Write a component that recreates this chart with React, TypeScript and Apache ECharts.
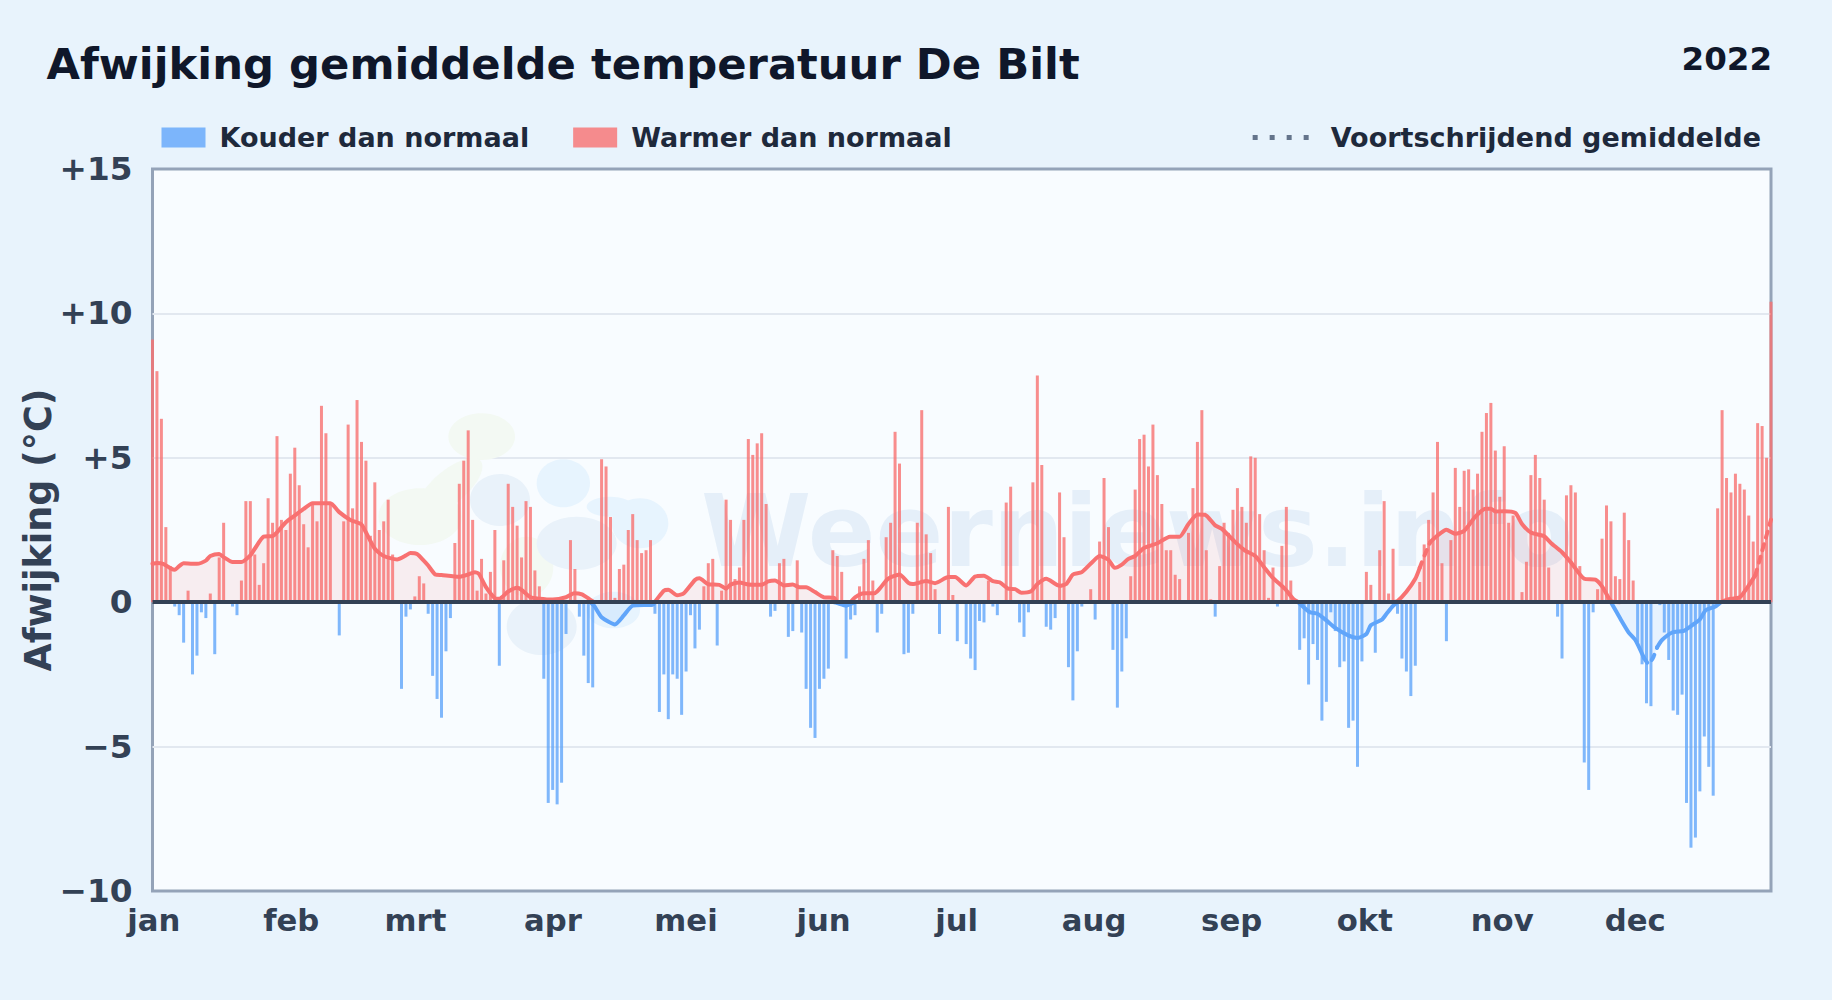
import React, { useEffect, useRef } from "react";
import * as echarts from "echarts";

const monthLabels = ["jan", "feb", "mrt", "apr", "mei", "jun", "jul", "aug", "sep", "okt", "nov", "dec"];
const monthStarts = [0, 31, 59, 90, 120, 151, 181, 212, 243, 273, 304, 334];
const yTickLabels: Record<string, string> = { "15": "+15", "10": "+10", "5": "+5", "0": "0", "-5": "\u22125", "-10": "\u221210" };

const dailyAnomaly = [
  9.1, 8.0, 6.35, 2.6, 1.25, -0.15, -0.45, -1.4, 0.4, -2.5,
  -1.85, -0.35, -0.55, 0.3, -1.8, 1.55, 2.75, 0, -0.15, -0.45,
  0.75, 3.5, 3.5, 1.65, 0.6, 1.35, 3.6, 2.75, 5.75, 2.85,
  2.5, 4.45, 5.35, 4.05, 2.7, 1.9, 3.4, 2.8, 6.8, 5.85,
  3.4, 0, -1.15, 2.8, 6.15, 3.25, 7.0, 5.55, 4.9, 2.3,
  4.15, 2.5, 2.8, 3.55, 1.65, 0, -3.0, -0.5, -0.25, 0.2,
  0.9, 0.65, -0.4, -2.55, -3.35, -4.0, -1.7, -0.55, 2.05, 4.1,
  4.9, 5.95, 2.85, 0.4, 1.5, 0.3, 1.05, 2.5, -2.2, 1.45,
  4.1, 3.3, 2.65, 1.55, 3.5, 3.3, 1.1, 0.55, -2.65, -6.95,
  -6.5, -7.0, -6.25, -1.1, 2.15, 1.15, -0.5, -1.85, -2.8, -2.95,
  0, 4.95, 4.7, 2.95, 0.15, 1.15, 1.3, 2.5, 3.05, 2.15,
  1.7, 1.8, 2.15, -0.4, -3.8, -2.5, -4.05, -2.5, -2.65, -3.9,
  -2.4, -0.45, -1.6, -0.95, 0.55, 1.35, 1.5, -1.5, 0.4, 3.55,
  2.85, 0.8, 1.2, 2.85, 5.65, 5.1, 5.5, 5.85, 3.4, -0.5,
  -0.3, 1.35, 1.5, -1.2, -1.0, 1.45, -1.05, -3.0, -4.35, -4.7,
  -3.0, -2.65, -2.3, 1.8, 1.6, 1.05, -1.95, -0.6, -0.45, 0.55,
  1.5, 2.15, 0.75, -1.05, -0.4, 2.25, 2.75, 5.9, 4.8, -1.8,
  -1.75, -0.4, 2.75, 6.65, 2.35, 1.7, 0.45, -1.1, 0, 3.3,
  0.25, -1.35, 0, -1.45, -1.95, -2.35, -0.65, -0.7, 0.75, -0.15,
  -0.45, 0, 3.45, 4.0, 0, -0.7, -1.2, -0.35, 4.15, 7.85,
  4.75, -0.85, -0.95, -0.55, 3.8, 2.25, -2.25, -3.4, -1.7, -0.15,
  0.05, 0.45, -0.6, 2.1, 4.3, 2.6, -1.65, -3.65, -2.4, -1.25,
  0.9, 3.9, 5.65, 5.8, 4.7, 6.15, 4.4, 3.4, 1.8, 1.8,
  0.95, 0.8, 0, 2.4, 3.95, 5.55, 6.65, 1.8, 0.1, -0.5,
  1.25, 2.75, 2.4, 3.2, 3.95, 3.3, 2.75, 5.05, 5.0, 3.05,
  1.8, 0.15, 1.2, -0.15, 1.95, 3.3, 0.75, 0, -1.65, -1.25,
  -2.85, -1.45, -2.0, -4.1, -3.45, -0.35, -1.0, -2.25, -2.05, -4.35,
  -4.1, -5.7, -2.05, 1.05, 0.6, -1.75, 1.8, 3.5, 0.3, 1.85,
  -0.4, -1.95, -2.4, -3.25, -2.2, 0.7, 2.0, 2.85, 3.8, 5.55,
  1.35, -1.35, 2.15, 4.65, 3.3, 4.55, 4.6, 3.9, 4.45, 5.9,
  6.55, 6.9, 5.25, 3.65, 5.4, 2.75, 3.0, 0, 0.35, 1.4,
  4.4, 5.1, 4.3, 3.55, 1.2, 0, -0.5, -1.95, 3.7, 4.05,
  3.8, 1.25, -5.55, -6.5, -0.35, 0.45, 2.2, 3.35, 2.8, 0.9,
  0.8, 3.1, 2.15, 0.75, -1.4, -2.15, -3.5, -3.6, 0, -0.1,
  -1.05, -2.0, -3.75, -3.9, -3.2, -6.95, -8.5, -8.15, -6.55, -4.65,
  -5.7, -6.7, 3.25, 6.65, 4.3, 3.8, 4.45, 4.1, 3.9, 3.0,
  2.1, 6.2, 6.1, 5.0, 10.4,
];

const avgDays = [
  0, 1, 2.4, 4, 5, 6, 7, 9, 10, 12, 13, 15, 16, 18, 20, 22, 23, 25, 27, 28, 30, 32, 34, 36, 40, 42, 44.5, 47, 48, 50,
  52, 55, 57, 58, 59.5, 61, 62, 63.6, 65, 69, 71, 72.5, 73.4, 75, 77, 78, 80, 82, 83, 85, 87, 90, 93, 94.8, 96.6, 98.5,
  99.3, 101, 104, 106, 108, 112.5, 113, 115, 116, 118, 119.5, 122, 123, 125, 127.5, 129, 130, 132, 134, 137, 138.5, 140,
  142, 144, 145.5, 147, 149, 151, 153.3, 154, 156, 157, 158, 160, 162.4, 163.5, 165.4, 168, 170, 171, 174, 176, 179,
  180.5, 183, 185, 187, 189, 190.5, 192.4, 194, 195.4, 197.6, 199, 201, 204, 205.5, 207, 209, 211.5, 213, 215, 216.4,
  218, 219.4, 221, 223, 226, 228.8, 231, 233, 235, 236.7, 239, 240.5, 243.5, 245.7, 248, 250, 251.8, 254.7, 256.5, 257.7,
  260.3, 262, 264, 266, 268.9, 271, 273, 274, 276.5, 277.5, 279, 280, 282, 284, 285, 286.3, 287.4, 289, 291, 293, 295,
  297.5, 299.8, 301, 302, 304, 306.5, 308, 310, 313, 314.5, 317, 319, 322, 324.5, 326, 328, 330, 332, 333.5, 335.4,
  336.5, 337.6, 338.4, 339.5, 341.8, 344.4, 346.3, 348, 349.3, 351.5, 352.7, 354.5, 357, 358.6, 360.5, 362, 364,
];
const avgValues = [
  1.33, 1.36, 1.33, 1.18, 1.12, 1.25, 1.35, 1.33, 1.33, 1.44, 1.6, 1.67, 1.56, 1.39, 1.39, 1.62, 1.85, 2.27, 2.29, 2.42, 2.77, 3.0, 3.23, 3.43, 3.43, 3.12, 2.85, 2.69, 2.42, 1.85,
  1.6, 1.48, 1.62, 1.7, 1.67, 1.44, 1.27, 0.96, 0.94, 0.88, 0.96, 1.04, 0.98, 0.52, 0.14, 0.12, 0.37, 0.5, 0.43, 0.17, 0.12, 0.09, 0.17, 0.31, 0.27, 0.08,
  -0.12, -0.52, -0.77, -0.46, -0.12, -0.09, 0.02, 0.4, 0.43, 0.24, 0.31, 0.77, 0.83, 0.62, 0.6, 0.47, 0.61, 0.68, 0.61, 0.6, 0.72, 0.75,
  0.58, 0.61, 0.52, 0.52, 0.35, 0.17, 0.15, -0.03, -0.12, -0.06, 0.17, 0.31, 0.31, 0.46, 0.81, 0.96, 0.67, 0.63, 0.73, 0.66, 0.87,
  0.87, 0.58, 0.89, 0.92, 0.73, 0.69, 0.47, 0.45, 0.33, 0.38, 0.63, 0.81, 0.57, 0.63, 0.96, 1.04, 1.41, 1.6, 1.47, 1.19,
  1.3, 1.49, 1.6, 1.88, 2.04, 2.27, 2.27, 2.71, 3.04, 3.03, 2.66, 2.54, 2.08, 1.79, 1.6, 1.21, 0.87, 0.46, 0.12, 0,
  -0.35, -0.4, -0.63, -0.89, -1.15, -1.24, -1.1, -0.8, -0.6, -0.41, -0.13, 0.04, 0.36, 0.81, 1.19, 1.7, 2.09, 2.31, 2.51, 2.37, 2.47,
  2.96, 3.24, 3.24, 3.14, 3.15, 3.09, 2.71, 2.41, 2.28, 2.05, 1.73, 1.38, 0.81, 0.78, 0.55, 0.04, -0.54, -1.05, -1.31, -1.92,
  -2.14, -1.88, -1.56, -1.31, -1.05, -0.99, -0.79, -0.6, -0.28, -0.15, 0, 0.1, 0.17, 0.49, 0.94, 1.77, 2.86,
];
const dashRanges = [[285, 287.4], [335.4, 338.4], [360.5, 364]];

const FONT = "'DejaVu Sans', sans-serif";
const WARM = "#f87171";
const COLD = "#60a5fa";
const DOTS_ICON = "path://M0 0h5v5h-5z M17 0h5v5h-5z M34 0h5v5h-5z M51 0h5v5h-5z";

function inDash(d: number) {
  return dashRanges.some(([a, b]) => d >= a && d <= b);
}
function onBoundaryOrOutside(d: number) {
  return !dashRanges.some(([a, b]) => d > a && d < b);
}
function signed(sign: number) {
  return avgValues.map((v, i) => {
    if (sign * v >= 0) return v;
    const prev = avgValues[i - 1];
    const next = avgValues[i + 1];
    if ((prev !== undefined && sign * prev > 0) || (next !== undefined && sign * next > 0)) return 0;
    return null;
  });
}
function lineData(sign: number, dashed: boolean | null) {
  const vals = signed(sign);
  return avgDays.map((d, i) => {
    const keep = dashed === null ? true : dashed ? inDash(d) : onBoundaryOrOutside(d);
    return [d, keep ? vals[i] : null];
  });
}
function avgLine(sign: number, dashed: boolean) {
  return {
    type: "line",
    xAxisIndex: 1,
    data: lineData(sign, dashed),
    showSymbol: false,
    symbol: "none",
    smooth: 0.2,
    silent: true,
    z: 3,
    lineStyle: { color: sign > 0 ? WARM : COLD, width: 4, cap: "round", join: "round", type: dashed ? [6, 7] : "solid" },
  };
}
function avgArea(sign: number) {
  return {
    type: "line",
    xAxisIndex: 1,
    data: lineData(sign, null),
    showSymbol: false,
    symbol: "none",
    smooth: 0.2,
    silent: true,
    z: 1,
    lineStyle: { width: 0 },
    areaStyle: { color: sign > 0 ? "rgba(248,113,113,0.15)" : "rgba(96,165,250,0.15)", origin: 0 },
  };
}
function blob(cx: number, cy: number, rx: number, ry: number, fill: string, rotation = 0) {
  return {
    type: "ellipse",
    x: 380 + cx / 3,
    y: 400 + cy / 3,
    rotation,
    z: 1,
    silent: true,
    shape: { cx: 0, cy: 0, rx: rx / 3, ry: ry / 3 },
    style: { fill },
  };
}
function categoryItem(i: number) {
  if (!monthStarts.includes(i)) return String(i);
  const shift = 1.2 - (3.5 * i) / 334;
  const padding = shift >= 0 ? [0, 0, 0, 2 * shift] : [0, -2 * shift, 0, 0];
  return { value: String(i), textStyle: { padding } };
}

export default function App() {
  const ref = useRef<HTMLDivElement>(null);
  useEffect(() => {
    document.body.style.margin = "0";
    const chart = echarts.init(ref.current!, undefined, { renderer: "svg" });
    const greenA = "#f3f9f3";
    const greyB = "#e9f2fa";
    const blueC = "#e7f4fe";
    chart.setOption({
      animation: false,
      backgroundColor: "#e8f3fc",
      title: [
        { text: "Afwijking gemiddelde temperatuur De Bilt", left: 41.5, top: 37.5, textStyle: { fontFamily: FONT, fontSize: 43.3, fontWeight: "bold", color: "#0f172a" } },
        { text: "2022", right: 55, top: 37, textStyle: { fontFamily: FONT, fontSize: 32.5, fontWeight: "bold", color: "#0f172a" } },
      ],
      legend: [
        {
          data: ["Kouder dan normaal", "Warmer dan normaal"],
          left: 156.5,
          top: 119,
          itemWidth: 44,
          itemHeight: 20,
          itemGap: 44,
          icon: "rect",
          textStyle: { fontFamily: FONT, fontSize: 27, fontWeight: "bold", color: "#1e293b", padding: [0, 0, 0, 9] },
        },
        {
          data: [{ name: "Voortschrijdend gemiddelde", icon: DOTS_ICON, itemStyle: { color: "#64748b", opacity: 1 } }],
          right: 66,
          top: 119,
          itemWidth: 56,
          itemHeight: 5,
          textStyle: { fontFamily: FONT, fontSize: 27, fontWeight: "bold", color: "#1e293b", padding: [0, 0, 0, 17] },
        },
      ],
      grid: { left: 152.5, right: 61, top: 169, bottom: 109, show: true, backgroundColor: "#f8fcff", borderColor: "#94a3b8", borderWidth: 3 },
      xAxis: [
        {
          type: "category",
          boundaryGap: false,
          data: dailyAnomaly.map((_, i) => categoryItem(i)),
          axisLine: { show: false },
          axisTick: { show: false },
          splitLine: { show: false },
          axisLabel: {
            interval: (i: number) => monthStarts.includes(i),
            formatter: (v: string) => monthLabels[monthStarts.indexOf(Number(v))] ?? "",
            fontFamily: FONT,
            fontSize: 30.7,
            fontWeight: "bold",
            color: "#334155",
            margin: 14,
          },
        },
        { type: "value", min: 0, max: 364, show: false, splitLine: { show: false } },
      ],
      yAxis: {
        type: "value",
        min: -10,
        max: 15,
        interval: 5,
        name: "Afwijking (\u00b0C)",
        nameLocation: "middle",
        nameRotate: 90,
        nameGap: 96,
        nameMoveOverlap: false,
        nameTextStyle: { fontFamily: FONT, fontSize: 36.5, fontWeight: "bold", color: "#334155" },
        axisLine: { show: false },
        axisTick: { show: false },
        splitLine: { showMinLine: false, showMaxLine: false, lineStyle: { color: "#e2e8f0", width: 2 } },
        axisLabel: {
          formatter: (v: number) => yTickLabels[String(v)] ?? String(v),
          fontFamily: FONT,
          fontSize: 32.7,
          fontWeight: "bold",
          color: "#334155",
          margin: 20,
        },
      },
      graphic: [
        blob(305, 110, 100, 70, greenA),
        blob(210, 260, 120, 50, greenA, 0.7),
        blob(120, 350, 125, 85, greenA),
        blob(440, 500, 80, 90, greenA),
        blob(360, 300, 90, 78, greyB),
        blob(590, 430, 120, 80, greyB),
        blob(485, 680, 105, 85, greyB),
        blob(550, 250, 80, 72, blueC),
        blob(780, 370, 85, 75, blueC),
        blob(690, 320, 70, 30, blueC),
        blob(700, 630, 80, 55, blueC),
        {
          type: "text",
          x: 701,
          y: 581,
          z: 1,
          silent: true,
          style: { text: "Weerniews.info", fontFamily: FONT, fontSize: 100, fontWeight: "bold", fill: "#e5eff9", textVerticalAlign: "bottom", verticalAlign: "alphabetic" },
        },
      ],
      series: [
        avgArea(1),
        avgArea(-1),
        {
          name: "Kouder dan normaal",
          type: "bar",
          barWidth: 3,
          barGap: "-100%",
          z: 2,
          silent: true,
          itemStyle: { color: "rgba(96,165,250,0.8)" },
          data: dailyAnomaly.map((v) => (v < 0 ? v : null)),
        },
        {
          name: "Warmer dan normaal",
          type: "bar",
          barWidth: 3,
          barGap: "-100%",
          z: 2,
          silent: true,
          itemStyle: { color: "rgba(248,113,113,0.8)" },
          data: dailyAnomaly.map((v) => (v > 0 ? v : null)),
          markLine: {
            silent: true,
            symbol: "none",
            label: { show: false },
            lineStyle: { color: "#334155", width: 4, type: "solid" },
            data: [{ yAxis: 0 }],
          },
        },
        avgLine(1, false),
        avgLine(1, true),
        avgLine(-1, false),
        avgLine(-1, true),
        {
          name: "Voortschrijdend gemiddelde",
          type: "line",
          xAxisIndex: 1,
          data: [],
          symbol: "none",
          itemStyle: { color: "#64748b" },
          lineStyle: { color: "#64748b", width: 4 },
        },
      ],
    });
    return () => chart.dispose();
  }, []);
  return <div ref={ref} style={{ width: 1832, height: 1000 }} />;
}
